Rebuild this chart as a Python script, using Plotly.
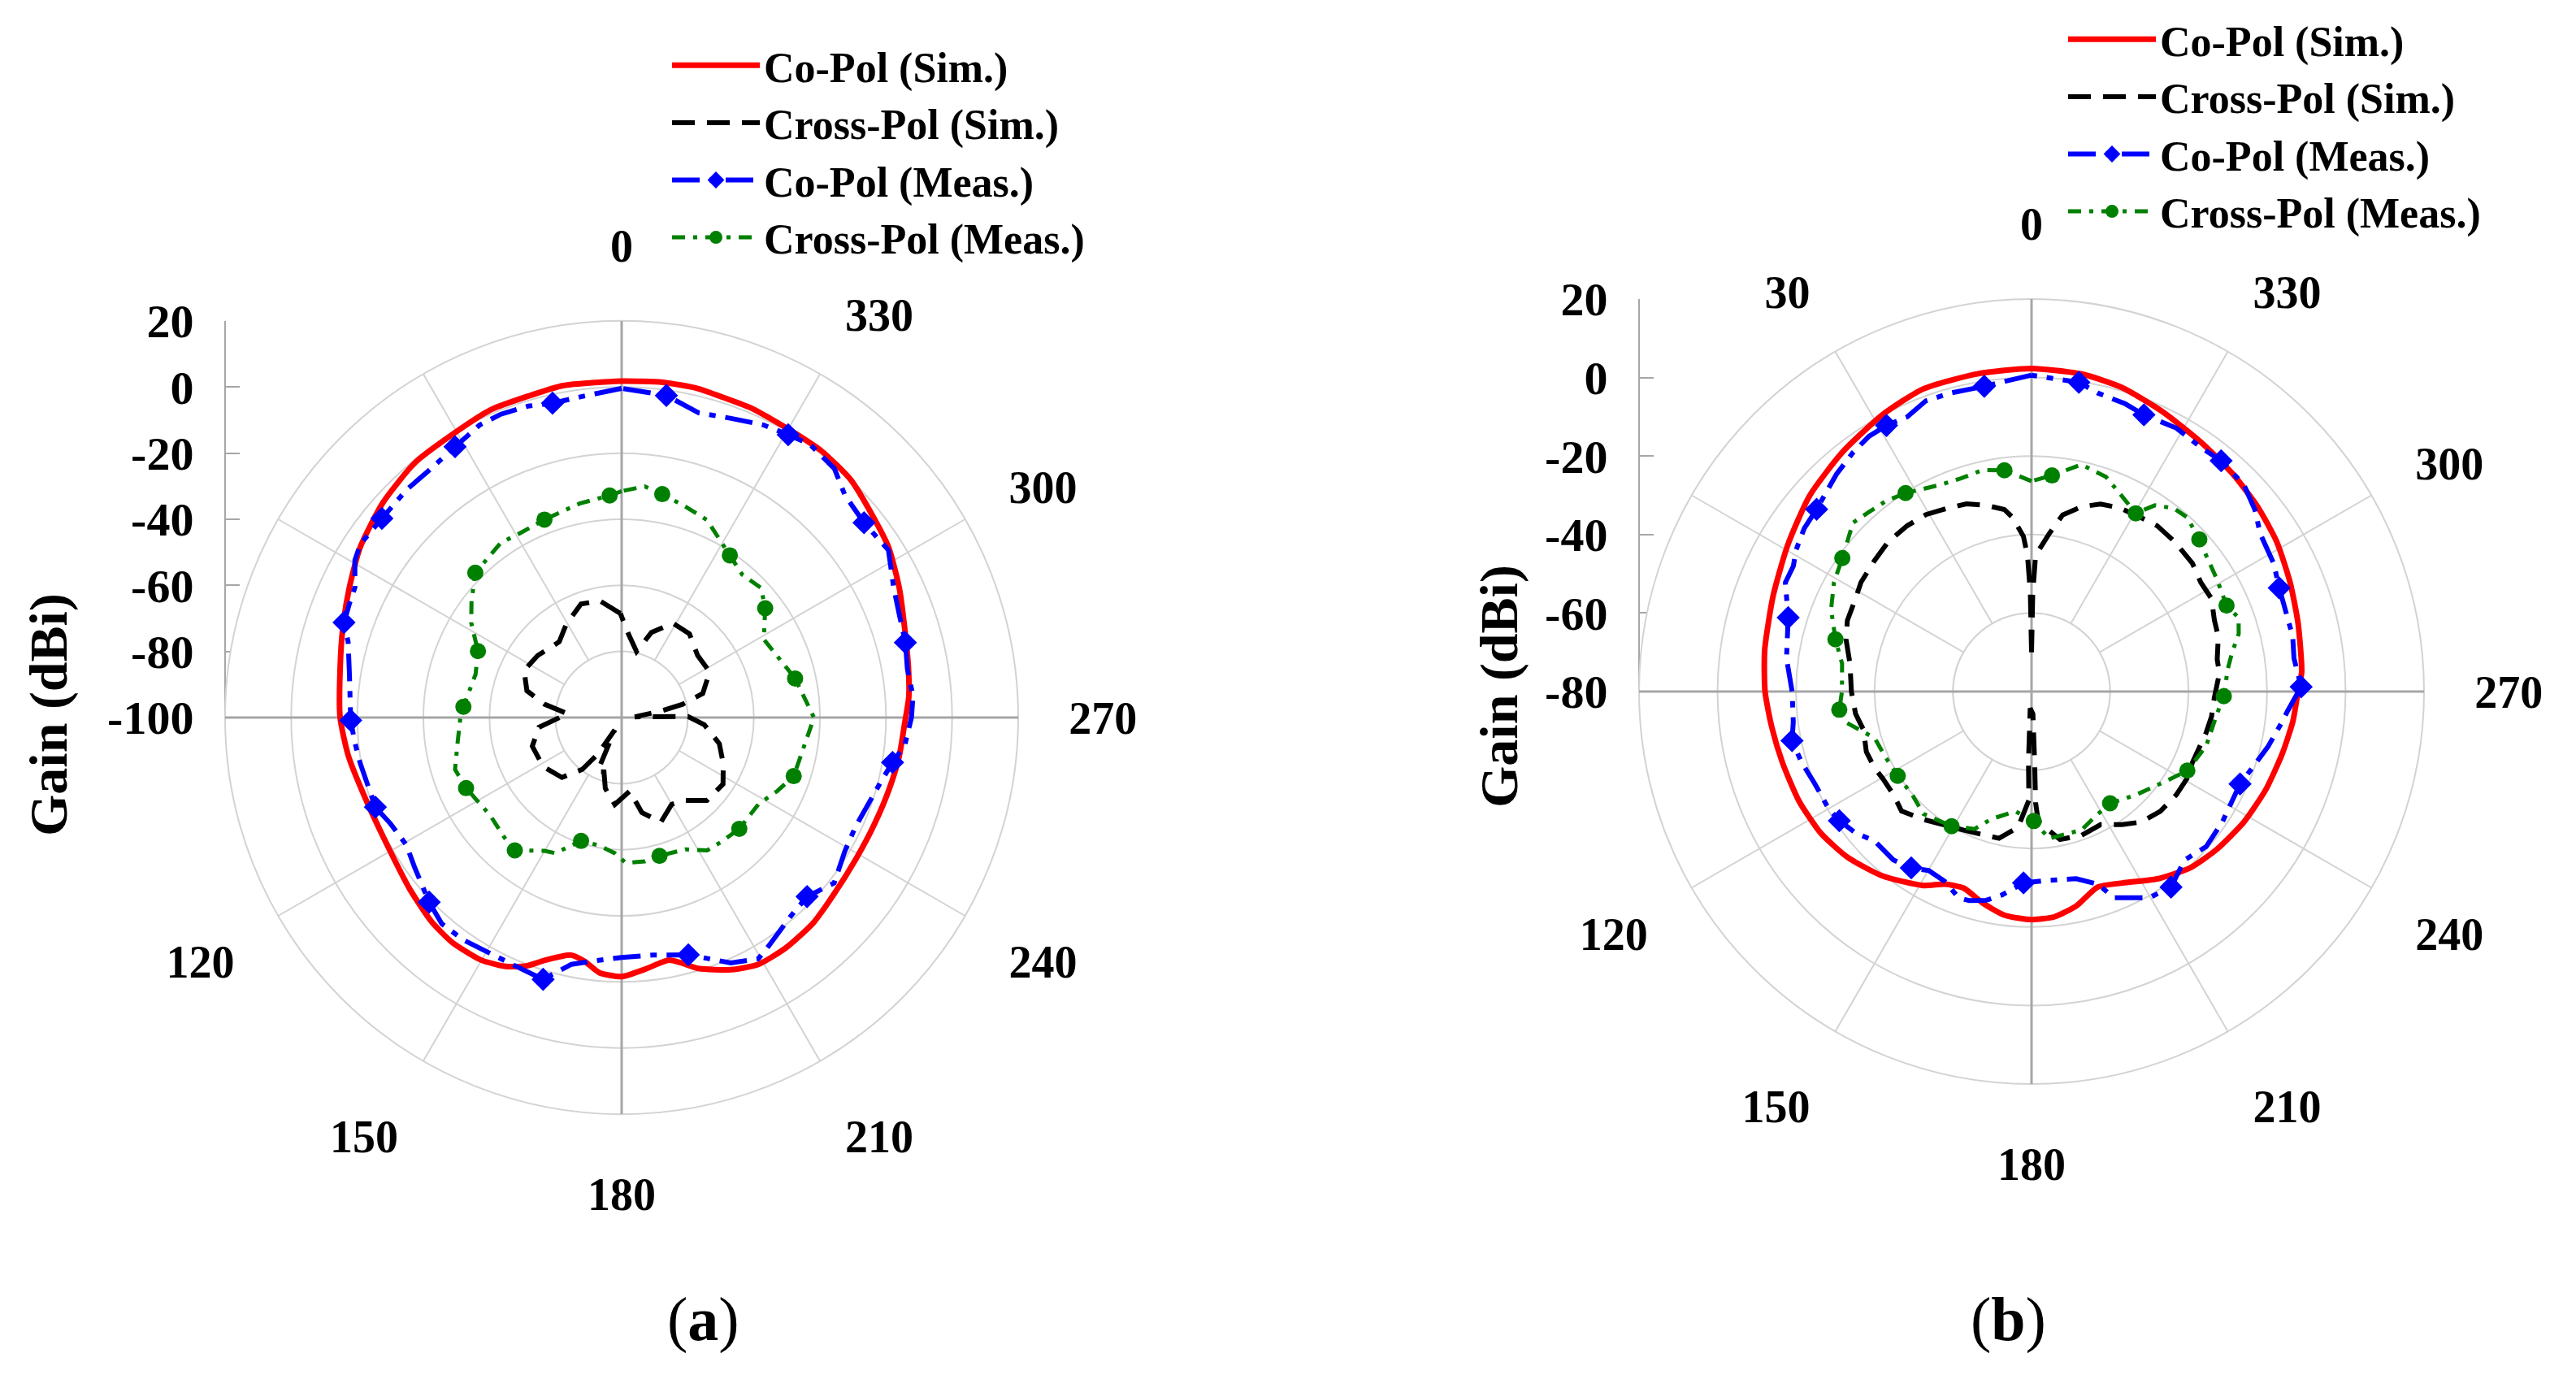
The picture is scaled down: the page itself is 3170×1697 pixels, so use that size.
import plotly.graph_objects as go

W, H = 3170, 1697
FONT = "Liberation Serif"

# ------------------------------------------------------------------ data (a)
A_RINGS = [-100, -80, -60, -40, -20, 0, 20]
A_ANG_VALS = [0, 30, 60, 90, 120, 150, 180, 210, 240, 270, 300, 330]
A_ANG_TEXT = ["0", "", "", "", "120", "150", "180", "210", "240", "270", "300", "330"]

A_COSIM_T = [0, 10, 16, 23, 31, 39, 48, 57, 64.5, 72, 80, 90, 98, 107, 119, 129, 137, 143,
             150, 155, 159, 162.5, 168, 171.5, 175, 180, 185, 191, 193.5, 197, 203.5, 209,
             215.5, 223, 230, 239, 247, 255, 262, 269, 274, 280, 287.5, 295, 302.5, 309, 316,
             323, 329.5, 337, 342, 347, 353]
A_COSIM_R = [1.8, 2.0, 1.3, 1.2, -0.2, -0.7, -2.8, -5.6, -8.7, -11.3, -13.5, -14.8, -16.5,
             -18.6, -19.2, -17.5, -15.6, -14.8, -15.2, -16.9, -19.5, -23.0, -26.5, -25.3,
             -22.5, -21.6, -23.4, -25.2, -23.7, -20.6, -16.8, -14.6, -14.4, -15.0, -16.4,
             -17.2, -17.0, -16.2, -15.2, -14.3, -12.9, -11.9, -10.2, -7.3, -4.2, -2.5, -0.1,
             0.8, 0.8, 1.5, 1.6, 2.2, 2.2]

A_XSIM_T = [0.7, 10.5, 19.7, 30.8, 39.5, 53.6, 64.2, 74.2, 80.2, 86, 96.7, 107.8, 122, 135.1,
            142.8, 147, 151, 155.9, 162, 167, 175.5, 186.3, 192, 200.6, 210, 217, 225.8,
            236.7, 245.5, 255, 265, 270.9, 273, 279.4, 282.3, 286.5, 297.5, 309.3, 321, 331.4,
            340.7, 347.3, 355.4]
A_XSIM_R = [-68.5, -64.1, -63.5, -67.2, -70.3, -68.4, -67.2, -70.2, -76.3, -83.6, -74.8,
            -71.6, -72.0, -74.4, -80.3, -87.0, -95.7, -82.0, -82.7, -78.0, -73.6, -77.6,
            -70.6, -66.2, -69.7, -68.6, -64.0, -63.3, -66.2, -69.4, -74.9, -79.9, -96.0,
            -88.0, -81.1, -74.4, -70.0, -70.3, -67.4, -67.5, -72.7, -79.5, -74.6]

A_COMEAS_T = [0, 7, 12.4, 16.7, 21.7, 25.9, 31.6, 38.2, 43.4, 50.3, 56.4, 59.5, 64, 67.3, 71.1,
              74.5, 81, 90.6, 95.3, 100, 110, 114.6, 120.6, 125.8, 133.8, 138.9, 144.5, 150.9,
              157.3, 163.3, 168.5, 174.6, 180, 187.5, 195.7, 204, 209.5, 213, 220.5, 226,
              232.1, 239.2, 245.1, 255.8, 260.6, 264.5, 270, 274.2, 279.6, 284.8, 290.3,
              295.5, 302.1, 308.8, 314.8, 319.5, 325.4, 329.5, 334.1, 339.9, 345.8, 352.1]
A_COMEAS_R = [-0.4, -2.1, -2.6, -1.6, -1.2, -1.6, -3.8, -5.2, -5.2, -5.7, -5.1, -6.3, -10.2,
              -10.7, -11.2, -14.1, -16.6, -18.0, -18.9, -19.7, -20.7, -23.0, -24.3, -22.7,
              -19.3, -17.2, -17.4, -18.3, -18.2, -17.3, -23.8, -26.2, -27.4, -27.5, -25.4,
              -18.7, -16.1, -17.9, -21.1, -22.0, -18.5, -21.3, -21.9, -19.3, -16.9, -13.9,
              -12.3, -11.6, -12.3, -11.2, -10.4, -8.8, -4.7, -5.9, -4.7, -0.9, 0.4, -0.7,
              -1.6, -3.6, -4.9, -1.6]
A_COMEAS_MK = [0, 0, 1, 0, 0, 0, 1, 0, 0, 1, 0, 0, 0, 0, 1, 0, 0, 1, 0, 0, 1, 0, 0, 0, 1, 0,
               0, 0, 0, 1, 0, 0, 0, 0, 1, 0, 0, 0, 0, 1, 0, 0, 0, 0, 1, 0, 0, 0, 0, 1, 0, 0,
               0, 1, 0, 0, 0, 1, 0, 0, 0, 1]

A_XMEAS_T = [0, 3.1, 11.1, 21.3, 28.9, 34.6, 45.3, 52.2, 57.8, 65.2, 73.5, 86.1, 90, 98.6,
             107.3, 114.4, 126.7, 135.9, 141.2, 149.9, 153.9, 161.8, 169.8, 177.1, 181.6,
             189.1, 195.3, 205.8, 212.7, 218.4, 226.6, 237.6, 244.8, 251.2, 264.1, 270,
             282.7, 298.8, 307.3, 312.9, 319.9, 326.3, 336.6, 343.2, 349.7, 354.3]
A_XMEAS_R = [-31.5, -32.7, -34.0, -35.7, -36.3, -35.7, -37.7, -42.5, -46.2, -52.1, -53.9,
             -52.0, -51.2, -49.8, -47.2, -48.3, -50.4, -49.2, -48.4, -53.4, -54.3, -60.7,
             -60.7, -58.9, -56.0, -55.9, -56.6, -55.7, -52.2, -51.8, -51.0, -51.0, -47.9,
             -45.0, -43.5, -41.8, -46.2, -50.9, -45.4, -42.4, -43.4, -41.0, -34.9, -33.3,
             -31.3, -29.7]
A_XMEAS_MK = [0, 1, 0, 1, 0, 0, 1, 0, 0, 1, 0, 1, 0, 0, 0, 1, 0, 0, 1, 0, 0, 1, 0, 0, 0, 0,
              1, 0, 0, 0, 1, 0, 0, 1, 0, 0, 1, 0, 1, 0, 0, 1, 0, 0, 1, 0]

# ------------------------------------------------------------------ data (b)
B_RINGS = [-80, -60, -40, -20, 0, 20]
B_ANG_VALS = [0, 30, 60, 90, 120, 150, 180, 210, 240, 270, 300, 330]
B_ANG_TEXT = ["0", "30", "", "", "120", "150", "180", "210", "240", "270", "300", "330"]

B_COSIM_T = [0, 9.7, 19.7, 28.3, 38.4, 48.6, 58.9, 69.7, 81.2, 90, 97.8, 105.9, 115.1, 123.8,
             132, 141.1, 150.8, 155.8, 161, 167, 173.1, 180, 185.8, 191.8, 198.7, 205.4,
             213.9, 221.9, 229.6, 238.4, 247.3, 256, 263.4, 270, 274.1, 284.4, 292.9, 301.4,
             309.3, 317.1, 325.2, 334.8, 343.4, 351]
B_COSIM_R = [2.3, 2.1, 1.9, 0.1, -2.3, -4.6, -7.5, -9.8, -11.2, -12.1, -13.2, -14.0, -14.5,
             -15.3, -16.9, -19.6, -23.4, -26.2, -27.0, -24.7, -22.6, -21.9, -22.3, -24.2,
             -27.4, -26.0, -22.5, -19.6, -18.0, -16.5, -15.3, -14.2, -13.0, -12.1, -11.0,
             -9.9, -8.5, -6.8, -5.6, -4.5, -3.3, -1.3, 0.8, 1.9]

B_XSIM_T = [0, 0.7, 1.7, 3, 6.2, 8.5, 13.9, 19.1, 24.6, 30.8, 36.9, 43.8, 50.2, 57.4, 62.2,
            68.9, 74.3, 81.3, 90, 97.2, 102.9, 110, 115.9, 120.4, 126.8, 132.6, 139.7, 154,
            160.2, 167.5, 174.3, 178.6, 177.5, 175.4, 183.5, 182.5, 182.1, 183, 190.9, 199.2,
            207.4, 214.2, 220, 227.1, 234.5, 240.8, 246.2, 256.7, 262.1, 268.1, 275.6, 279.8,
            286.4, 291.3, 297.3, 302.8, 308.5, 316.2, 322.8, 326.1, 334.4, 339.8, 344.8, 350,
            353.6, 358.3, 359.3]
B_XSIM_R = [-70.0, -55.0, -45.3, -40.4, -35.4, -33.1, -31.1, -29.4, -28.6, -27.5, -27.2,
            -27.2, -27.9, -28.4, -29.3, -29.7, -30.9, -33.2, -34.1, -34.8, -36.1, -35.2,
            -35.5, -36.1, -36.1, -35.0, -37.3, -40.7, -41.4, -41.7, -45.2, -52.3, -62.0,
            -75.7, -74.3, -62.0, -51.6, -46.7, -41.6, -41.2, -41.8, -39.0, -36.6, -35.2,
            -34.7, -34.6, -35.2, -34.3, -33.7, -33.4, -31.9, -32.0, -30.4, -30.0, -28.4,
            -28.7, -27.6, -27.2, -27.0, -27.4, -28.1, -29.1, -31.2, -34.3, -39.5, -45.3,
            -55.0]

B_COMEAS_T = [0, 4.5, 8.8, 15.2, 20, 24.4, 28.6, 32.5, 36.8, 41.9, 49.7, 54.3, 59, 62.2, 66.1,
              73.1, 82.3, 90, 97.3, 101.6, 107.1, 113.1, 119.9, 123.9, 128.8, 133.6, 140.6,
              145.7, 150.1, 155.5, 160.5, 163.4, 167.6, 171.7, 177.6, 185.3, 193.4, 199,
              201.8, 209.7, 215.5, 222.2, 228.4, 235.6, 246.1, 250.9, 257, 263.1, 265.6, 271,
              277.2, 281.9, 283.9, 292.7, 297.9, 304.6, 309.2, 314.2, 320.6, 325.3, 331.2,
              337.9, 342, 347.5, 351.3]
B_COMEAS_R = [0.6, -0.6, -1.3, -1.2, -1.2, -3.2, -2.8, -2.9, -4.0, -5.6, -8.2, -8.7, -10.0,
              -11.4, -11.4, -15.2, -17.0, -19.0, -18.8, -17.7, -18.7, -20.0, -20.3, -21.0,
              -22.5, -24.8, -24.5, -25.6, -27.4, -26.8, -24.3, -24.4, -25.5, -27.6, -31.2,
              -31.7, -31.0, -28.1, -23.4, -19.5, -18.8, -22.0, -20.5, -21.1, -21.9, -20.5,
              -18.1, -15.7, -14.6, -11.3, -12.6, -12.0, -12.1, -11.6, -10.2, -9.2, -6.6,
              -4.5, -3.9, -4.3, -3.4, -3.9, -2.9, -2.1, -0.3]
B_COMEAS_MK = [0, 0, 1, 0, 0, 0, 1, 0, 0, 0, 1, 0, 0, 0, 0, 1, 0, 0, 0, 1, 0, 0, 0, 1, 0, 0,
               0, 1, 0, 0, 0, 0, 0, 0, 1, 0, 0, 0, 0, 0, 1, 0, 0, 0, 1, 0, 0, 0, 0, 1, 0, 0,
               0, 1, 0, 0, 0, 0, 1, 0, 0, 1, 0, 0, 1]

B_XMEAS_T = [0, 7, 12.4, 18.3, 24, 32.4, 37.5, 42.1, 46.6, 54.8, 61.1, 67.7, 75.1, 81.6, 90,
             95.4, 99.2, 106.5, 114.1, 122.2, 131, 138.5, 149.3, 157.5, 162.4, 172.3, 181,
             186.8, 199.9, 207, 215.1, 225.2, 237.1, 243.1, 252.6, 263.2, 268.6, 276.5, 280.9,
             285.6, 289.6, 293.8, 301.1, 307.9, 312.2, 318.2, 322.2, 326.5, 329.7, 336.1,
             340.9, 347.6, 354.6]
B_XMEAS_R = [-26.4, -23.2, -22.2, -22.8, -22.4, -20.1, -18.9, -18.3, -17.4, -21.0, -22.5,
             -24.8, -28.3, -31.2, -31.7, -30.8, -31.8, -38.3, -39.2, -39.7, -39.8, -38.4,
             -40.1, -42.1, -45.9, -49.2, -47.0, -42.3, -42.5, -44.3, -45.2, -42.6, -38.5,
             -35.5, -33.4, -32.4, -31.0, -29.7, -28.0, -25.2, -24.0, -25.7, -24.8, -23.6,
             -22.3, -20.5, -20.9, -23.1, -27.4, -24.7, -22.1, -20.8, -24.7]
B_XMEAS_MK = [0, 1, 0, 0, 0, 1, 0, 0, 0, 1, 0, 0, 1, 0, 0, 1, 0, 0, 0, 1, 0, 0, 1, 0, 0, 0,
              1, 0, 0, 0, 1, 0, 0, 1, 0, 0, 1, 0, 0, 0, 0, 1, 0, 0, 1, 0, 0, 0, 1, 0, 0, 0, 1]

NAMES = ["Co-Pol (Sim.)", "Cross-Pol (Sim.)", "Co-Pol (Meas.)", "Cross-Pol (Meas.)"]

# ------------------------------------------------------------------ styles
RED, BLACK, BLUE, GREEN = "#ff0000", "#000000", "#0000ff", "#008000"
GRID = "#d3d3d3"
AXIS = "#a6a6a6"
STYLE = [
    dict(color=RED, width=7, dash="solid"),
    dict(color=BLACK, width=6, dash="28px,15px"),
    dict(color=BLUE, width=6, dash="34px,12px,8px,12px"),
    dict(color=GREEN, width=5, dash="16px,10px,5px,10px"),
]
MARKERS = [None, None, dict(symbol="diamond", size=22, color=BLUE),
           dict(symbol="circle", size=20, color=GREEN)]

# layout geometry (px)
A_CX, A_CY, A_RAD = 765, 883, 488
B_CX, B_CY, B_RAD = 2500, 851, 483


def closed(t, r):
    return list(t) + [t[0] + 360], list(r) + [r[0]]


fig = go.Figure()


def add_panel(sub, legend, rings, series):
    rmin = rings[0]
    inner = rings[1]
    # white inner disc (spokes stop at the first ring), with its ring outline
    th = list(range(0, 361, 2))
    fig.add_trace(go.Scatterpolar(r=[inner] * len(th), theta=th, mode="lines", fill="toself",
                                  fillcolor="white", line=dict(color=GRID, width=2),
                                  subplot=sub, showlegend=False, hoverinfo="skip"))
    # darker main cross (0-180 and 90-270)
    for a in (0, 90):
        fig.add_trace(go.Scatterpolar(r=[rings[-1], rmin, rings[-1]], theta=[a, a, a + 180],
                                      mode="lines", line=dict(color=AXIS, width=3),
                                      subplot=sub, showlegend=False, hoverinfo="skip"))
    for i, (t, r, mk) in enumerate(series):
        tt, rr = closed(t, r)
        st = STYLE[i]
        fig.add_trace(go.Scatterpolar(
            r=rr, theta=tt, mode="lines",
            line=dict(color=st["color"], width=st["width"], dash=st["dash"],
                      shape="spline" if i == 0 else "linear", smoothing=0.6),
            subplot=sub, showlegend=False, hoverinfo="skip"))
        if mk is not None:
            mt = [a for a, m in zip(t, mk) if m]
            mr = [v for v, m in zip(r, mk) if m]
            fig.add_trace(go.Scatterpolar(r=mr, theta=mt, mode="markers", marker=MARKERS[i],
                                          subplot=sub, showlegend=False, hoverinfo="skip"))
    # legend entries
    for i in range(4):
        st = STYLE[i]
        fig.add_trace(go.Scatterpolar(
            r=[None], theta=[None], name=NAMES[i],
            mode="lines+markers" if MARKERS[i] else "lines",
            line=dict(color=st["color"], width=st["width"], dash=st["dash"]),
            marker=MARKERS[i] if MARKERS[i] else None,
            subplot=sub, legend=legend, showlegend=True))


add_panel("polar", "legend", A_RINGS, [
    (A_COSIM_T, A_COSIM_R, None),
    (A_XSIM_T, A_XSIM_R, None),
    (A_COMEAS_T, A_COMEAS_R, A_COMEAS_MK),
    (A_XMEAS_T, A_XMEAS_R, A_XMEAS_MK),
])
add_panel("polar2", "legend2", B_RINGS, [
    (B_COSIM_T, B_COSIM_R, None),
    (B_XSIM_T, B_XSIM_R, None),
    (B_COMEAS_T, B_COMEAS_R, B_COMEAS_MK),
    (B_XMEAS_T, B_XMEAS_R, B_XMEAS_MK),
])

# dummy traces so the two left-hand value axes are drawn
fig.add_trace(go.Scatter(x=[None], y=[None], xaxis="x", yaxis="y", showlegend=False,
                         hoverinfo="skip"))
fig.add_trace(go.Scatter(x=[None], y=[None], xaxis="x2", yaxis="y2", showlegend=False,
                         hoverinfo="skip"))

ANGFONT = dict(family=FONT, size=56, color="black", weight="bold")
VALFONT = dict(family=FONT, size=58, color="black", weight="bold")
TITLEFONT = dict(family=FONT, size=66, color="black", weight="bold")


def polar_layout(cx, cy, rad, rings, vals, text):
    return dict(
        domain=dict(x=[(cx - rad) / W, (cx + rad) / W], y=[1 - (cy + rad) / H, 1 - (cy - rad) / H]),
        bgcolor="white",
        radialaxis=dict(range=[rings[0], rings[-1]], tickvals=rings[1:], showticklabels=False,
                        ticks="", showline=False, gridcolor=GRID, gridwidth=2,
                        layer="below traces"),
        angularaxis=dict(rotation=90, direction="counterclockwise", tickvals=vals,
                         ticktext=text, tickfont=ANGFONT, ticks="outside", ticklen=50,
                         tickcolor="rgba(0,0,0,0)", gridcolor=GRID, gridwidth=2,
                         showline=True, linecolor=GRID, linewidth=2, layer="below traces"),
    )


def value_axis(cx, cy, rad, rings):
    return dict(domain=[1 - cy / H, 1 - (cy - rad) / H], range=[rings[0], rings[-1]],
                tickvals=rings, ticktext=[str(v) for v in rings], anchor="free",
                position=(cx - rad) / W, side="left", automargin=False,
                showline=True, linecolor=AXIS, linewidth=2, ticks="inside", ticklen=17,
                tickwidth=2, tickcolor=AXIS, showgrid=False, zeroline=False,
                tickfont=VALFONT, ticklabelstandoff=26, fixedrange=True)


LEGFONT = dict(family=FONT, size=52, color="black", weight="bold")
fig.update_layout(
    width=W, height=H, autosize=False,
    margin=dict(l=0, r=0, t=0, b=0, autoexpand=False),
    paper_bgcolor="white", plot_bgcolor="white",
    polar=polar_layout(A_CX, A_CY, A_RAD, A_RINGS, A_ANG_VALS, A_ANG_TEXT),
    polar2=polar_layout(B_CX, B_CY, B_RAD, B_RINGS, B_ANG_VALS, B_ANG_TEXT),
    xaxis=dict(domain=[0, 0.001], visible=False, fixedrange=True, automargin=False),
    yaxis=value_axis(A_CX, A_CY, A_RAD, A_RINGS),
    xaxis2=dict(domain=[0.5, 0.501], visible=False, fixedrange=True, automargin=False),
    yaxis2=value_axis(B_CX, B_CY, B_RAD, B_RINGS),
    legend=dict(x=822 / W, y=1 - 40 / H, xanchor="left", yanchor="top", font=LEGFONT,
                bgcolor="rgba(0,0,0,0)", itemwidth=108, tracegroupgap=0),
    legend2=dict(x=2540 / W, y=1 - 8 / H, xanchor="left", yanchor="top", font=LEGFONT,
                 bgcolor="rgba(0,0,0,0)", itemwidth=108, tracegroupgap=0),
    showlegend=True,
    annotations=[
        dict(text="Gain (dBi)", x=60 / W, y=1 - 880 / H, xref="paper", yref="paper",
             xanchor="center", yanchor="middle", showarrow=False, textangle=-90,
             font=TITLEFONT),
        dict(text="Gain (dBi)", x=1845 / W, y=1 - 845 / H, xref="paper", yref="paper",
             xanchor="center", yanchor="middle", showarrow=False, textangle=-90,
             font=TITLEFONT),
        dict(text="(<b>a</b>)", x=865 / W, y=1 - 1623 / H, xref="paper", yref="paper",
             xanchor="center", yanchor="middle", showarrow=False,
             font=dict(family=FONT, size=76, color="black")),
        dict(text="(<b>b</b>)", x=2471 / W, y=1 - 1623 / H, xref="paper", yref="paper",
             xanchor="center", yanchor="middle", showarrow=False,
             font=dict(family=FONT, size=76, color="black")),
    ],
)

fig.write_html("out.html", config=dict(displayModeBar=False),
               post_script="document.body.style.margin='0';document.body.style.overflow='hidden';")
